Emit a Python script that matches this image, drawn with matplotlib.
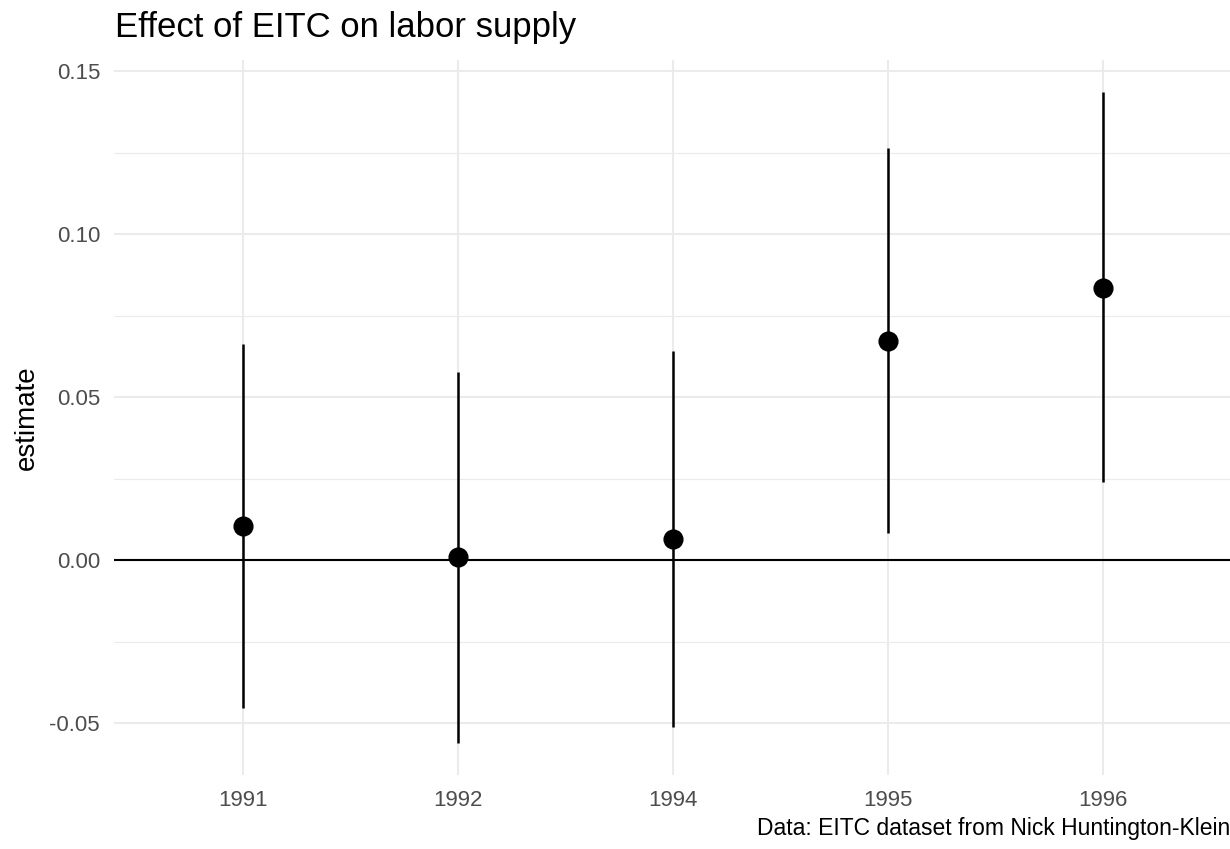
import matplotlib
matplotlib.use("Agg")
import matplotlib.pyplot as plt
from matplotlib.ticker import MultipleLocator

plt.rcParams['font.family'] = ['Liberation Sans', 'DejaVu Sans']

# event-study estimates
years = ['1991', '1992', '1994', '1995', '1996']
estimate = [0.0105, 0.0009, 0.0067, 0.0674, 0.0836]
conf_low = [-0.0452, -0.0559, -0.0510, 0.0084, 0.0239]
conf_high = [0.0664, 0.0576, 0.0643, 0.1265, 0.1435]

W, H = 1230, 849
fig = plt.figure(figsize=(W / 100, H / 100), dpi=100)
# panel runs from x=114 to x=1232 px, y=60 to y=775 px
ax = fig.add_axes([114 / W, 1 - 775 / H, (1232 - 114) / W, (775 - 60) / H])

xpos = list(range(1, len(years) + 1))

# grid like theme_minimal
ax.yaxis.set_major_locator(MultipleLocator(0.05))
ax.yaxis.set_minor_locator(MultipleLocator(0.025))
ax.grid(True, which='major', color='#EBEBEB', linewidth=1.5, zorder=0)
ax.grid(True, which='minor', axis='y', color='#EBEBEB', linewidth=0.8, zorder=0)
ax.set_axisbelow(True)

ax.axhline(0, color='black', linewidth=1.5, zorder=2)
ax.vlines(xpos, conf_low, conf_high, color='black', linewidth=1.8, zorder=3)
ax.plot(xpos, estimate, 'o', color='black', markersize=13.5, zorder=4)

ax.set_xticks(xpos)
ax.set_xticklabels(years)
ax.set_xlim(0.4, 5.6)
ax.set_ylim(-0.0658, 0.1534)
ax.set_yticks([-0.05, 0.0, 0.05, 0.10, 0.15])
ax.set_yticklabels(['-0.05', '0.00', '0.05', '0.10', '0.15'])

for s in ax.spines.values():
    s.set_visible(False)
ax.tick_params(axis='both', which='both', length=0, labelsize=16, labelcolor='#4D4D4D')
ax.tick_params(axis='x', pad=11)
ax.tick_params(axis='y', pad=10)

fig.text(27 / W, 1 - 417.5 / H, 'estimate', fontsize=20, rotation=90,
         ha='center', va='center')
fig.text(115 / W, 1 - 37 / H, 'Effect of EITC on labor supply', fontsize=25,
         ha='left', va='baseline')
fig.text(1230 / W, 1 - 835 / H, 'Data: EITC dataset from Nick Huntington-Klein',
         fontsize=16.5, ha='right', va='baseline')

fig.savefig('out.png', dpi=100)
